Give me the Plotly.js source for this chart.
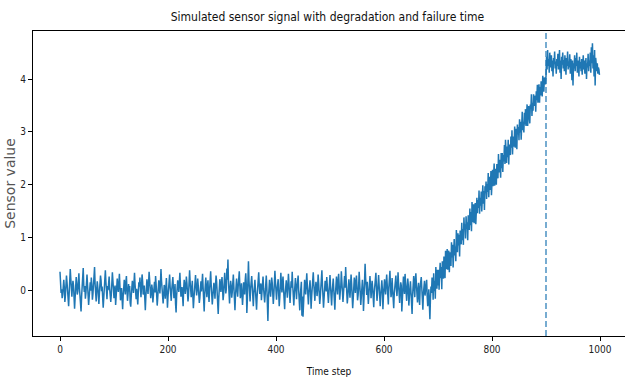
<!DOCTYPE html>
<html>
<head>
<meta charset="utf-8">
<script src="https://cdn.plot.ly/plotly-3.0.1.min.js"></script>
<style>html,body{margin:0;padding:0;background:#fff;}#chart{width:625px;height:381px;}</style>
</head>
<body>
<div id="chart"></div>
<script>
// Sensor readings, steps 0-689 (healthy, noisy around 0)
const flatSegment = [
0.35,0.10,-0.05,0.02,-0.15,-0.08,0.12,0.20,0.05,-0.22,
-0.10,0.08,0.28,0.15,-0.02,-0.18,-0.30,-0.06,0.14,0.40,
0.22,-0.04,-0.12,0.06,0.18,0.09,-0.20,-0.35,-0.14,0.03,
0.25,0.12,-0.08,-0.02,0.16,0.32,0.05,-0.10,-0.24,-0.40,
-0.12,0.07,0.19,0.42,0.10,-0.03,0.08,-0.16,-0.05,0.21,
0.30,0.11,-0.09,-0.28,-0.13,0.04,0.15,-0.01,0.24,0.09,
-0.18,-0.07,0.13,0.36,0.44,0.12,-0.11,-0.21,0.02,0.17,
0.06,-0.14,-0.26,-0.05,0.10,0.28,0.19,-0.02,0.07,-0.12,
-0.33,-0.15,0.05,0.14,0.38,0.16,-0.04,-0.17,0.08,0.00,
0.12,0.26,0.03,-0.10,-0.22,-0.08,0.11,0.34,0.18,-0.06,
-0.15,0.02,0.09,-0.28,-0.12,0.15,0.22,0.06,-0.03,0.13,
0.31,0.07,-0.19,-0.09,0.04,-0.14,-0.36,-0.11,0.10,0.20,
0.05,-0.08,0.16,0.27,0.01,-0.20,-0.07,0.12,-0.02,0.08,
-0.24,-0.31,-0.10,0.06,0.18,0.09,-0.05,0.14,0.33,0.11,
-0.06,-0.17,0.03,-0.09,-0.27,-0.04,0.15,0.07,0.24,0.02,
-0.13,0.10,0.30,0.17,-0.08,-0.02,0.09,-0.19,-0.38,-0.12,
0.06,0.21,0.04,-0.07,0.13,0.35,0.20,-0.01,-0.15,-0.05,
0.11,0.02,-0.23,-0.10,0.08,0.16,-0.04,0.27,0.12,-0.09,
-0.29,-0.14,0.03,0.19,0.09,-0.06,0.14,0.40,0.18,0.01,
-0.11,-0.25,-0.08,0.10,0.05,-0.16,0.07,0.23,-0.02,-0.33,
-0.12,0.08,0.17,0.30,0.06,-0.09,-0.20,0.02,0.14,0.25,
0.04,-0.15,-0.06,0.12,-0.26,-0.42,-0.10,0.09,0.19,0.07,
-0.03,0.15,0.33,0.10,-0.12,-0.04,0.06,-0.18,-0.30,0.03,
0.20,0.11,-0.07,0.05,0.26,0.14,-0.02,-0.21,-0.09,0.08,
0.38,0.16,-0.05,-0.13,0.02,0.18,-0.11,-0.34,-0.16,0.04,
0.13,0.29,0.07,-0.10,0.01,0.22,0.09,-0.06,-0.24,-0.14,
0.05,0.17,-0.02,0.10,0.31,0.06,-0.17,-0.40,-0.08,0.12,
0.24,0.03,-0.13,0.08,0.19,-0.05,-0.22,0.00,0.15,0.36,
0.11,-0.09,-0.27,-0.12,0.06,0.14,0.02,-0.16,0.09,0.28,
0.17,-0.04,-0.31,-0.45,-0.15,0.07,0.21,0.10,-0.03,0.13,
0.25,0.05,-0.19,-0.08,0.11,0.33,0.14,-0.06,0.02,0.41,
0.20,0.58,0.16,-0.11,-0.25,0.04,0.18,0.08,-0.14,-0.03,
0.12,0.30,0.06,-0.20,-0.38,-0.09,0.10,0.22,0.01,-0.12,
0.07,0.24,0.36,0.09,-0.15,-0.06,0.13,-0.02,-0.28,-0.10,
0.15,0.05,-0.08,0.19,0.32,0.11,-0.43,-0.17,0.21,0.55,
0.18,-0.04,-0.21,0.03,0.14,0.27,0.08,-0.13,-0.30,-0.06,
0.09,0.20,-0.01,-0.16,-0.37,-0.12,0.06,0.15,0.34,0.10,
-0.07,0.02,0.13,-0.19,-0.05,0.17,0.26,0.04,-0.10,-0.23,
-0.08,0.11,0.28,0.07,-0.40,-0.58,-0.15,0.09,0.20,0.03,
-0.12,0.06,0.24,0.14,-0.02,-0.26,-0.09,0.12,0.37,0.16,
-0.05,-0.18,0.01,0.10,0.21,-0.07,-0.30,-0.13,0.08,0.33,
0.12,-0.04,0.15,0.26,0.03,-0.16,-0.36,-0.08,0.11,0.19,
0.02,-0.14,0.07,0.31,0.13,-0.06,-0.24,-0.02,0.17,0.05,
0.35,0.09,-0.11,-0.29,-0.07,0.14,0.23,0.04,-0.17,0.06,
0.18,0.28,0.00,-0.21,-0.38,-0.10,0.08,0.16,-0.48,-0.12,
-0.50,-0.15,0.11,0.20,0.06,-0.08,0.13,0.32,0.10,-0.14,
-0.27,-0.05,0.09,0.19,-0.03,-0.35,-0.12,0.07,0.24,0.34,
0.12,-0.06,-0.20,0.03,0.16,0.08,-0.11,0.02,0.30,0.14,
-0.09,-0.26,-0.13,0.05,0.21,0.38,0.10,-0.07,-0.33,-0.15,
0.04,0.18,0.09,-0.02,0.25,0.11,-0.16,-0.24,-0.06,0.13,
0.29,0.07,-0.10,-0.29,-0.04,0.12,0.22,0.01,-0.13,-0.37,
-0.09,0.15,0.26,0.06,-0.08,0.19,0.31,0.10,-0.18,-0.03,
0.08,0.36,0.14,-0.11,-0.22,-0.06,0.12,0.27,0.05,0.44,
0.18,-0.04,-0.25,-0.12,0.09,0.21,0.03,-0.14,0.06,0.30,
0.13,-0.08,-0.34,-0.16,0.02,0.24,0.11,-0.05,0.17,0.28,
0.07,-0.19,-0.10,0.06,0.35,0.15,-0.03,-0.28,-0.12,0.09,
0.20,0.01,-0.39,-0.14,0.10,0.50,0.22,0.04,-0.09,0.16,
-0.06,-0.26,-0.08,0.13,0.27,0.08,-0.15,0.02,0.18,0.05,
-0.12,-0.32,-0.04,0.11,0.24,0.33,0.06,-0.20,-0.07,0.14,
0.29,0.09,-0.15,-0.30,-0.10,0.07,0.19,0.02,-0.36,-0.11,
0.12,0.21,0.04,-0.08,0.14,0.30,0.10,-0.19,-0.27,0.05,
0.17,0.37,0.08,-0.13,-0.04,0.23,0.01,-0.22,-0.34,-0.06,
0.11,0.20,0.28,0.03,-0.11,0.07,0.34,0.12,-0.16,-0.24,
-0.02,0.15,0.09,-0.40,-0.14,0.18,0.26,0.06,-0.07,0.31,
0.13,-0.10,-0.20,0.04,0.22,0.10,-0.29,-0.12,0.08,0.17,
-0.04,-0.33,-0.45,-0.09,0.16,0.27,0.05,-0.13,0.21,0.32,
0.11,-0.08,-0.23,0.02,0.14,-0.15,-0.28,0.06,0.19,0.25,
0.04,-0.18,-0.37,-0.06,0.12,0.18,-0.10,-0.03,0.09,0.20,
-0.12,-0.30,-0.19,0.02,-0.26,-0.55,-0.16,0.07,-0.05,0.24
];
// Sensor readings, steps 690-899 (degradation ramp)
const riseSegment = [
0.15,-0.18,0.32,-0.02,0.18,-0.16,0.44,0.18,0.03,0.39,
0.09,0.39,0.01,0.31,0.52,0.23,0.44,0.02,0.55,0.38,
0.22,0.64,0.46,0.23,0.75,0.58,0.40,0.78,0.39,0.63,
0.75,0.34,0.72,0.65,0.46,0.91,0.62,0.86,0.43,0.82,
0.97,0.66,0.83,0.55,1.14,0.92,0.72,1.08,0.85,1.05,
0.64,1.13,1.00,0.87,1.28,0.95,1.16,0.86,1.38,1.15,
1.25,0.98,1.40,1.16,1.29,0.95,1.42,1.32,1.14,1.55,
1.23,1.48,1.12,1.67,1.40,1.29,1.63,1.27,1.55,1.65,
1.25,1.58,1.75,1.46,1.71,1.56,1.89,1.45,1.75,1.60,
1.87,1.49,1.78,1.99,1.64,1.88,1.52,1.97,1.84,2.06,
1.73,2.01,1.86,2.22,1.76,2.04,2.15,1.90,2.26,1.80,
2.15,2.28,1.97,2.15,2.40,1.98,2.30,2.17,2.00,2.39,
2.31,2.12,2.58,2.23,2.47,2.37,2.13,2.60,2.31,2.60,
2.24,2.56,2.44,2.75,2.39,2.85,2.62,2.41,2.72,2.52,
2.85,2.38,2.76,2.69,2.56,2.91,2.70,3.03,2.57,2.91,
2.86,2.72,3.10,2.70,2.97,3.06,2.67,3.14,2.95,3.09,
2.84,3.24,2.99,3.19,2.85,3.18,3.38,3.03,3.19,2.99,
3.36,3.14,3.43,3.11,3.32,3.52,3.11,3.42,3.49,3.31,
3.16,3.52,3.44,3.71,3.30,3.55,3.40,3.71,3.49,3.68,
3.66,3.38,3.77,3.60,3.89,3.55,3.74,3.90,3.55,3.85,
3.69,3.96,3.84,3.67,4.06,3.86,3.76,4.03,3.97,3.90
];
// Sensor readings, steps 900-999 (after failure)
const plateauSegment = [
4.05,4.42,4.18,4.55,4.25,4.38,4.12,4.50,4.30,4.22,
4.45,4.15,4.35,4.05,4.40,4.28,4.52,4.20,4.33,4.10,
4.38,4.25,4.48,4.18,4.30,4.55,4.12,4.35,4.00,4.42,
4.27,4.50,4.20,4.36,4.15,4.45,4.30,4.08,4.40,4.25,
4.52,4.18,4.33,4.22,4.47,4.10,4.38,4.28,3.98,4.35,
3.88,4.30,4.20,4.45,4.15,4.40,4.25,4.50,4.12,4.35,
4.28,4.05,4.42,4.20,4.32,4.15,4.38,4.08,4.25,4.45,
4.18,4.35,4.10,4.28,4.40,4.00,4.30,4.22,4.48,4.15,
4.35,4.25,4.50,4.12,4.60,4.30,4.68,4.20,4.45,4.05,
4.55,3.88,4.40,4.25,4.15,4.30,4.10,4.22,4.18,4.08
];
const failureTime = 900;
const xTickVals = [0, 200, 400, 600, 800, 1000];
const yTickVals = [0, 1, 2, 3, 4];

const signal = flatSegment.concat(riseSegment, plateauSegment);
const steps = signal.map((_, i) => i);

const narrow = "DejaVu Sans Condensed, Liberation Sans Narrow, DejaVu Sans, sans-serif";

const trace = {
  x: steps, y: signal, type: "scatter", mode: "lines",
  line: {color: "#1f77b4", width: 1.5}, hoverinfo: "skip"
};

const layout = {
  width: 625, height: 381,
  margin: {l: 33, r: 0, t: 31, b: 45},
  paper_bgcolor: "#fff", plot_bgcolor: "#fff",
  showlegend: false,
  title: {text: "Simulated sensor signal with degradation and failure time",
          font: {family: narrow, size: 12, color: "#111"}, x: 0.524, xanchor: "center", y: 0.955, yanchor: "middle"},
  xaxis: {
    range: [-50, 1046.3], tickvals: xTickVals, ticktext: xTickVals.map(String),
    showgrid: false, zeroline: false, showline: true, linecolor: "#000", linewidth: 1, mirror: true,
    ticks: "outside", ticklen: 4, tickcolor: "#000", tickwidth: 1,
    tickfont: {family: narrow, size: 10, color: "#222"},
    title: {text: "Time step", font: {family: narrow, size: 10, color: "#111"}, standoff: 13}
  },
  yaxis: {
    range: [-0.866, 4.91], tickvals: yTickVals, ticktext: yTickVals.map(String),
    showgrid: false, zeroline: false, showline: true, linecolor: "#000", linewidth: 1, mirror: false,
    ticks: "outside", ticklen: 4, tickcolor: "#000", tickwidth: 1,
    tickfont: {family: narrow, size: 10, color: "#222"},
    title: {text: "Sensor value", font: {family: "DejaVu Sans, sans-serif", size: 14, color: "#555"}, standoff: 1}
  },
  shapes: [{
    type: "line", xref: "x", yref: "paper", x0: failureTime, x1: failureTime, y0: 0, y1: 1,
    line: {color: "#1f77b4", width: 1.5, dash: "6px,3px"}, opacity: 0.8
  }]
};

Plotly.newPlot("chart", [trace], layout, {displayModeBar: false, staticPlot: true});
</script>
</body>
</html>
